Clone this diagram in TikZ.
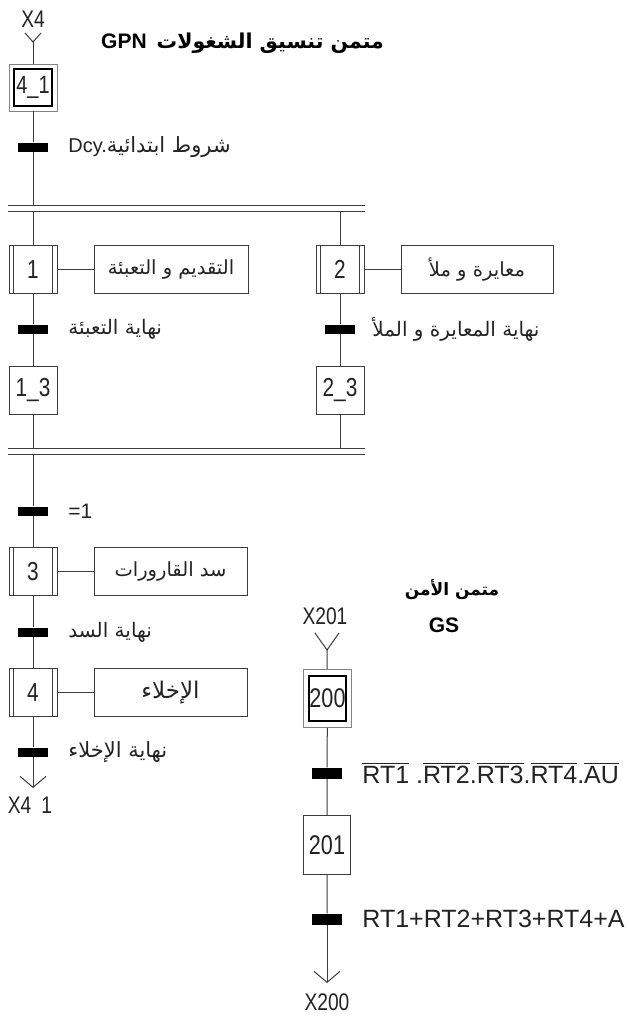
\documentclass[tikz,border=0pt]{standalone}
\usepackage{fontspec}
\setmainfont{Liberation Sans}
\newfontfamily\narrowfont[FakeStretch=0.8]{Liberation Sans}
\newfontfamily\arabicfont[Script=Arabic]{DejaVu Sans}
\TeXXeTstate=1
\usetikzlibrary{arrows.meta, positioning, fit}
\definecolor{gline}{RGB}{60,60,60}
\definecolor{gframe}{RGB}{130,130,130}
\definecolor{gtext}{RGB}{35,35,35}
\newcommand{\artxt}[1]{{\arabicfont\beginR #1\endR}}
\newcommand{\ovl}[1]{\leavevmode\vbox{\hrule height 1.1pt\kern 2.2pt\hbox{#1}}}
\tikzset{
  % Step
  stepbox/.style={
    rectangle, draw=gline, line width=1pt,
    minimum width=48pt, minimum height=48pt, inner sep=0pt,
    text=gtext, font=\narrowfont\fontsize{26}{26}\selectfont
  },
  % Initial step (inner box, the frame comes from fit)
  initstep/.style={
    stepbox, draw=black, line width=1.8pt,
    minimum width=38pt, minimum height=37pt
  },
  initframe/.style={
    rectangle, draw=gframe, line width=0.8pt, inner sep=4pt
  },
  % Step that calls a task
  taskstep/.style={
    stepbox,
    path picture={
      \draw[gline, line width=0.8pt]
        ([xshift=4.5pt]path picture bounding box.north west) --
        ([xshift=4.5pt]path picture bounding box.south west)
        ([xshift=-4.5pt]path picture bounding box.north east) --
        ([xshift=-4.5pt]path picture bounding box.south east);
    }
  },
  % Action box
  actionbox/.style={
    rectangle, draw=gline, line width=1pt,
    minimum width=154pt, minimum height=48pt, inner sep=0pt,
    text=gtext, font=\fontsize{19.5}{19.5}\selectfont
  },
  % Transition bar
  trans/.style={
    rectangle, fill=black, minimum width=30pt, minimum height=9pt, inner sep=0pt
  },
  % Links
  link/.style={draw=gline, line width=1pt},
  exitarr/.style={link, -{Straight Barb[length=11pt, width=26pt]}},
  % Receptivity label
  tlabel/.style={inner sep=0pt, text=gtext, font=\fontsize{20}{20}\selectfont},
  % Step variable label
  varlabel/.style={inner sep=0pt, text=gtext, font=\narrowfont\fontsize{24}{24}\selectfont},
  % Titles
  titletxt/.style={inner sep=0pt, text=black, font=\bfseries\fontsize{21}{21}\selectfont},
}
\begin{document}
\begin{tikzpicture}[x=1pt, y=-1pt]
  \useasboundingbox[fill=white] (0,0) rectangle (629,1020);

  % GPN
  \node[titletxt, anchor=west] (gpn) at (101,43) {GPN\hspace{10pt}\artxt{\fontsize{20.5}{20.5}\selectfont متمن تنسيق الشغولات}};
  \node[varlabel] (x4) at (33,19) {X4};
  \coordinate (in41) at (33,42);
  \draw[link] ([shift={(-8,-9)}]in41) -- (in41) -- ([shift={(8,-9)}]in41);
  \node[initstep, font=\narrowfont\fontsize{25}{25}\selectfont] (s41) at (33,87.5) {4\_1};
  \node[initframe, fit=(s41)] (s41f) {};
  \draw[link] (in41) -- (s41f);

  \node[trans] (t0) at (33,147) {};
  \node[tlabel, right=20pt of t0] (c0) {Dcy.\artxt{\fontsize{21}{21}\selectfont شروط ابتدائية}};
  \draw[link] (s41f) -- (t0);

  % divergence AND
  \coordinate (dv1w) at (8,205);
  \coordinate (dv1e) at (365,205);
  \coordinate (dv2w) at (8,211);
  \coordinate (dv2e) at (365,211);
  \draw[link] (dv1w) -- (dv1e) (dv2w) -- (dv2e);
  \draw[link] (t0) -- (t0 |- dv1w);

  \node[taskstep] (s1) at (33,269.5) {1};
  \node[actionbox, right=36pt of s1] (a1) {\artxt{التقديم و التعبئة}};
  \draw[link] (s1) -- (a1);
  \node[trans] (t1) at (33,329) {};
  \node[tlabel, right=20pt of t1] (c1) {\artxt{نهاية التعبئة}};
  \node[stepbox] (s13) at (33,390) {1\_3};

  \node[taskstep] (s2) at (340,269.5) {2};
  \node[actionbox, right=36pt of s2, minimum width=152pt] (a2) {\artxt{معايرة و ملأ}};
  \draw[link] (s2) -- (a2);
  \node[trans] (t2) at (340,329) {};
  \node[tlabel, right=17pt of t2] (c2) {\artxt{نهاية المعايرة و الملأ}};
  \node[stepbox] (s23) at (340,390) {2\_3};

  \draw[link] (s1 |- dv2w) -- (s1) -- (t1) -- (s13);
  \draw[link] (s2 |- dv2w) -- (s2) -- (t2) -- (s23);

  % convergence AND
  \coordinate (cv1w) at (8,448);
  \coordinate (cv1e) at (365,448);
  \coordinate (cv2w) at (8,454);
  \coordinate (cv2e) at (365,454);
  \draw[link] (cv1w) -- (cv1e) (cv2w) -- (cv2e);
  \draw[link] (s13) -- (s13 |- cv1w);
  \draw[link] (s23) -- (s23 |- cv1w);

  \node[trans] (t3) at (33,511) {};
  \node[tlabel, right=20pt of t3, font=\fontsize{21}{21}\selectfont] (c3) {=1};
  \node[taskstep] (s3) at (33,571.5) {3};
  \node[actionbox, right=36pt of s3, minimum width=153pt] (a3) {\artxt{سد القارورات}};
  \node[trans] (t4) at (33,632) {};
  \node[tlabel, right=20pt of t4] (c4) {\artxt{نهاية السد}};
  \node[taskstep] (s4) at (33,692.5) {4};
  \node[actionbox, right=36pt of s4, minimum width=153pt] (a4) {\artxt{\fontsize{23}{23}\selectfont الإخلاء}};
  \node[trans] (t5) at (33,752) {};
  \node[tlabel, right=20pt of t5] (c5) {\artxt{\fontsize{21}{21}\selectfont نهاية الإخلاء}};
  \coordinate (out4) at (33,788);
  \node[varlabel] (x41) at (30,805) {X4\hspace{10pt}1};

  \draw[link] (t3 |- cv2w) -- (t3) -- (s3) -- (t4) -- (s4) -- (t5);
  \draw[link] (s3) -- (a3);
  \draw[link] (s4) -- (a4);
  \draw[exitarr] (t5) -- (out4);

  % GS
  \node[titletxt] (gst) at (452,590) {\artxt{\fontsize{17}{17}\selectfont متمن الأمن}};
  \node[titletxt] (gsn) at (444,625) {GS};
  \node[varlabel] (x201) at (325,616) {X201};
  \coordinate (in200) at (327,650);
  \draw[link] ([shift={(-12,-17)}]in200) -- (in200) -- ([shift={(12,-17)}]in200);
  \node[initstep, minimum width=37pt, minimum height=45pt, font=\narrowfont\fontsize{27}{27}\selectfont] (s200) at (327.5,698.5) {200};
  \node[initframe, inner xsep=4.5pt, inner ysep=5.5pt, fit=(s200)] (s200f) {};
  \node[trans, minimum height=11pt] (tg1) at (327,773) {};
  \node[tlabel, right=20pt of tg1, font=\fontsize{25}{25}\selectfont] (cg1)
    {\ovl{RT1} .\ovl{RT2}.\ovl{RT3}.\ovl{RT4}.\ovl{AU}};
  \node[stepbox, minimum width=47pt, minimum height=59pt, font=\narrowfont\fontsize{27}{27}\selectfont] (s201) at (327,845) {201};
  \node[trans, minimum height=11pt] (tg2) at (327,919) {};
  \node[tlabel, right=20pt of tg2, font=\fontsize{25}{25}\selectfont] (cg2) {RT1+RT2+RT3+RT4+A};
  \coordinate (out200) at (327,983);
  \node[varlabel] (x200) at (327,1002) {X200};

  \draw[link] (in200) -- (s200f) -- (tg1) -- (s201) -- (tg2);
  \draw[exitarr] (tg2) -- (out200);
\end{tikzpicture}
\end{document}
